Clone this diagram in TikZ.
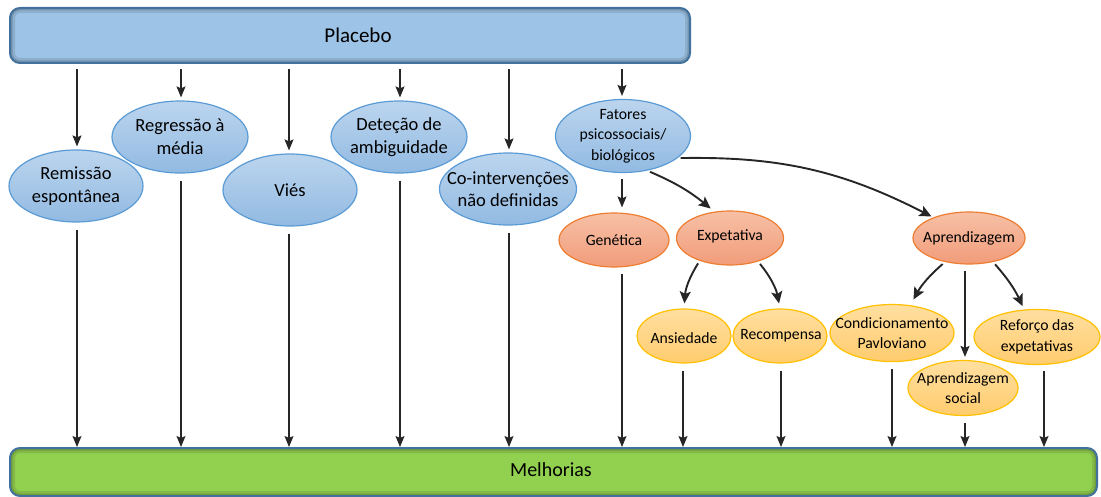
\documentclass[tikz,border=0pt]{standalone}
\usepackage{fontspec}
\setmainfont{Carlito}
\usetikzlibrary{shapes.geometric,arrows.meta,calc}
\definecolor{barblue}{HTML}{9DC3E6}
\definecolor{barline}{HTML}{41719C}
\definecolor{bargreen}{HTML}{92D050}
\definecolor{elltopb}{HTML}{BCD5EE}
\definecolor{ellbotb}{HTML}{92BAE2}
\definecolor{elllineb}{HTML}{5B9BD5}
\definecolor{elltopo}{HTML}{F7C0A6}
\definecolor{ellboto}{HTML}{F19C7A}
\definecolor{elllineo}{HTML}{ED7D31}
\definecolor{elltopy}{HTML}{FFDFA0}
\definecolor{ellboty}{HTML}{FFCC6E}
\definecolor{elliney}{HTML}{FFC000}
\definecolor{arrowgray}{HTML}{262626}
\begin{document}
\begin{tikzpicture}[x=1pt,y=-1pt,
  bar/.style={rectangle, rounded corners=10pt, draw=barline, line width=2pt, inner sep=0pt,
    path picture={
      \draw[line width=10pt, draw=black, opacity=0.10, rounded corners=10pt]
        (path picture bounding box.south west) rectangle (path picture bounding box.north east);
      \draw[line width=5pt, draw=black, opacity=0.15, rounded corners=10pt]
        (path picture bounding box.south west) rectangle (path picture bounding box.north east);}},
  ellbase/.style={ellipse, line width=1.2pt, inner sep=0pt},
  blueell/.style={ellbase, draw=elllineb, top color=elltopb, bottom color=ellbotb},
  orangeell/.style={ellbase, draw=elllineo, top color=elltopo, bottom color=ellboto},
  yellowell/.style={ellbase, draw=elliney, top color=elltopy, bottom color=ellboty},
  bigtxt/.style={align=center, inner sep=0pt, font=\fontsize{18.5}{22.5}\selectfont},
  smalltxt/.style={align=center, inner sep=0pt, font=\fontsize{15.7}{20.5}\selectfont},
  arr/.style={draw=arrowgray, line width=1.2pt, -{Stealth[length=11pt,width=9pt,inset=2pt]}},
  carr/.style={draw=arrowgray, line width=1.9pt, -{Stealth[length=12pt,width=11pt,inset=2.5pt]}},
  bartext/.style={font=\fontsize{21}{25}\selectfont, inner sep=0pt}
]
\useasboundingbox (0,0) rectangle (1101,497);

% bars
\node[bar, fill=barblue, minimum width=680pt, minimum height=55pt] (placebo) at (350,35.5) {};
\node[bartext] (placebotxt) at (358,35) {Placebo};
\node[bar, fill=bargreen, minimum width=1087pt, minimum height=48pt] (melh) at (553.5,472) {};
\node[bartext, font=\fontsize{20}{24}\selectfont] (melhtxt) at (551,470) {Melhorias};

% first row (blue)
\node[blueell, minimum width=134pt, minimum height=72pt,
  label={[bigtxt]center:Remissão\\espontânea}] (rem) at (76,186) {};
\node[blueell, minimum width=136pt, minimum height=72pt,
  label={[bigtxt]center:Regressão à\\média}] (reg) at (180,137) {};
\node[blueell, minimum width=134pt, minimum height=72pt,
  label={[bigtxt]center:Viés}] (vies) at (290,190) {};
\node[blueell, minimum width=136pt, minimum height=72pt,
  label={[bigtxt]center:Deteção de\\ambiguidade}] (det) at (399,137) {};
\node[blueell, minimum width=137pt, minimum height=72pt,
  label={[bigtxt]center:Co-intervenções\\não definidas}] (coint) at (508,189) {};
\node[blueell, minimum width=135pt, minimum height=73pt,
  label={[smalltxt]center:Fatores\\psicossociais/\\biológicos}] (fat) at (623,136) {};

% second row (orange)
\node[orangeell, minimum width=110pt, minimum height=54pt,
  label={[smalltxt]center:Genética}] (gen) at (614,240) {};
\node[orangeell, minimum width=107pt, minimum height=54pt,
  label={[smalltxt, yshift=2pt]center:Expetativa}] (exp) at (730,238) {};
\node[orangeell, minimum width=112pt, minimum height=52pt,
  label={[smalltxt]center:Aprendizagem}] (apr) at (969,238) {};

% third row (yellow)
\node[yellowell, minimum width=94pt, minimum height=54pt,
  label={[smalltxt, yshift=-2pt]center:Ansiedade}] (ans) at (684,336) {};
\node[yellowell, minimum width=94pt, minimum height=54pt,
  label={[smalltxt, xshift=1pt]center:Recompensa}] (rec) at (780,336) {};
\node[yellowell, minimum width=124pt, minimum height=57pt,
  label={[smalltxt]center:Condicionamento\\Pavloviano}] (cond) at (892,333) {};
\node[yellowell, minimum width=110pt, minimum height=55pt,
  label={[smalltxt]center:Aprendizagem\\social}] (soc) at (963,388) {};
\node[yellowell, minimum width=126pt, minimum height=55pt,
  label={[smalltxt]center:Reforço das\\expetativas}] (ref) at (1037,337) {};

% Placebo -> first row (arrows at the reference's x positions)
\foreach \n/\dx in {rem/1,reg/1,vies/-1,det/1,coint/1,fat/-1}
  \draw[arr, shorten <=5pt, shorten >=3pt] ([xshift=\dx pt]placebo.south -| \n.north) -- ([xshift=\dx pt]\n.north);

% first row -> Melhorias
\foreach \n/\dx in {rem/1,reg/1,vies/-1,det/1,coint/1}
  \draw[arr, shorten <=7pt] ([xshift=\dx pt]\n.south) -- ([xshift=\dx pt]\n.south |- melh.north);

% Fatores -> second row
\draw[arr, shorten <=6pt, shorten >=5pt] ([xshift=-1pt]fat.south) -- ([xshift=-1pt]fat.south |- gen.north);
\draw[carr, shorten <=3pt, shorten >=3pt] (fat.-55) to[bend left=8] ($(exp.north)+(-17,0)$);
\draw[carr, shorten <=3pt, shorten >=2pt] (fat.-22) to[bend left=14] (apr.150);

% second row -> third row
\draw[carr, shorten <=3pt, shorten >=5pt] (exp.-143) to[bend right=14] (ans.north);
\draw[carr, shorten <=3pt, shorten >=5pt] (exp.-40) to[bend left=14] (rec.north);
\draw[carr, shorten <=3pt, shorten >=5pt] (apr.-135) to[bend right=10] ($(cond.north)+(19,0)$);
\draw[arr, line width=1.6pt, shorten <=6pt, shorten >=3pt] ([xshift=-4pt]apr.south) -- ([xshift=-4pt]apr.south |- soc.north);
\draw[carr, shorten <=3pt, shorten >=3pt] (apr.-45) to[bend left=8] ($(ref.north)+(-13,0)$);

% second/third rows -> Melhorias
\draw[arr, shorten <=6pt] ([xshift=-1pt]fat.south |- gen.south) -- ([xshift=-1pt]fat.south |- melh.north);
\foreach \n/\dx in {ans/-1,rec/1,cond/0,soc/2}
  \draw[arr, shorten <=7pt] ([xshift=\dx pt]\n.south) -- ([xshift=\dx pt]\n.south |- melh.north);
\draw[arr, shorten <=6pt] ([xshift=7pt]ref.south) -- ([xshift=7pt]ref.south |- melh.north);
\end{tikzpicture}
\end{document}
